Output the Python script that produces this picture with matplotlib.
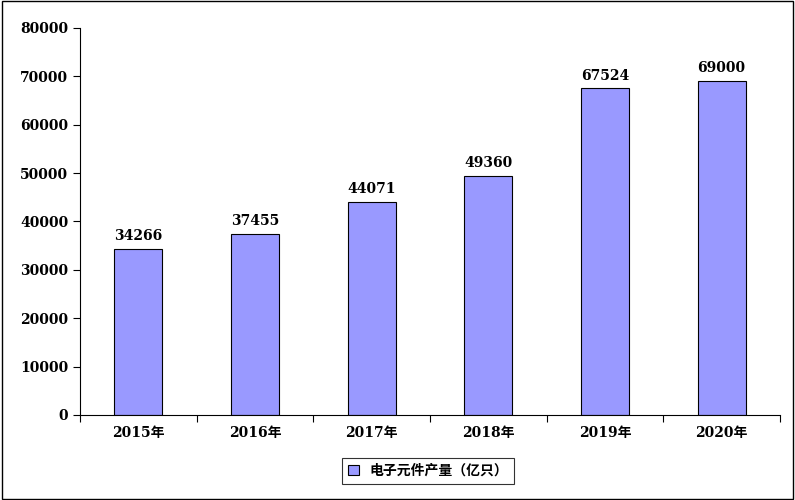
import matplotlib.pyplot as plt
from matplotlib.patches import Rectangle

years = ["2015年", "2016年", "2017年", "2018年", "2019年", "2020年"]
values = [34266, 37455, 44071, 49360, 67524, 69000]
series_name = "电子元件产量（亿只）"

plt.rcParams['font.family'] = ['DejaVu Serif', 'Noto Sans CJK SC']
plt.rcParams['font.weight'] = 'bold'

fig = plt.figure(figsize=(7.95, 5.0), dpi=100)
ax = fig.add_axes([80 / 795, 85 / 500, 700 / 795, 387 / 500])

x = range(len(years))
bars = ax.bar(x, values, width=0.41, color="#9999FF", edgecolor="black", linewidth=0.8,
              label=series_name)
for xi, v in zip(x, values):
    ax.text(xi, v + 1200, str(v), ha="center", va="bottom", fontsize=10, fontweight="bold")

ax.set_xlim(-0.5, len(years) - 0.5)
ax.set_ylim(0, 80000)
ax.set_yticks(range(0, 80001, 10000))
ax.set_xticks([i - 0.5 for i in range(len(years) + 1)], minor=False)
ax.set_xticklabels([])
ax.set_xticks(list(x), minor=True)
ax.set_xticklabels(years, minor=True, fontsize=10, fontweight="bold")
ax.tick_params(axis="x", which="minor", length=0, pad=8)
ax.tick_params(axis="x", which="major", length=5, direction="out")
ax.tick_params(axis="y", labelsize=10, length=5)
for lab in ax.get_yticklabels():
    lab.set_fontweight("bold")
ax.spines["top"].set_visible(False)
ax.spines["right"].set_visible(False)

leg = fig.legend(handles=[bars], labels=[series_name], loc="center",
                 bbox_to_anchor=(428 / 795, 1 - 471 / 500), frameon=True, fancybox=False,
                 edgecolor="black", fontsize=10, handlelength=0.8, handleheight=0.8)
leg.get_frame().set_linewidth(0.8)

fig.patches.append(Rectangle((0.002, 0.002), 0.996, 0.996, transform=fig.transFigure,
                             fill=False, edgecolor="black", linewidth=1))

fig.savefig("out.png", dpi=100)
